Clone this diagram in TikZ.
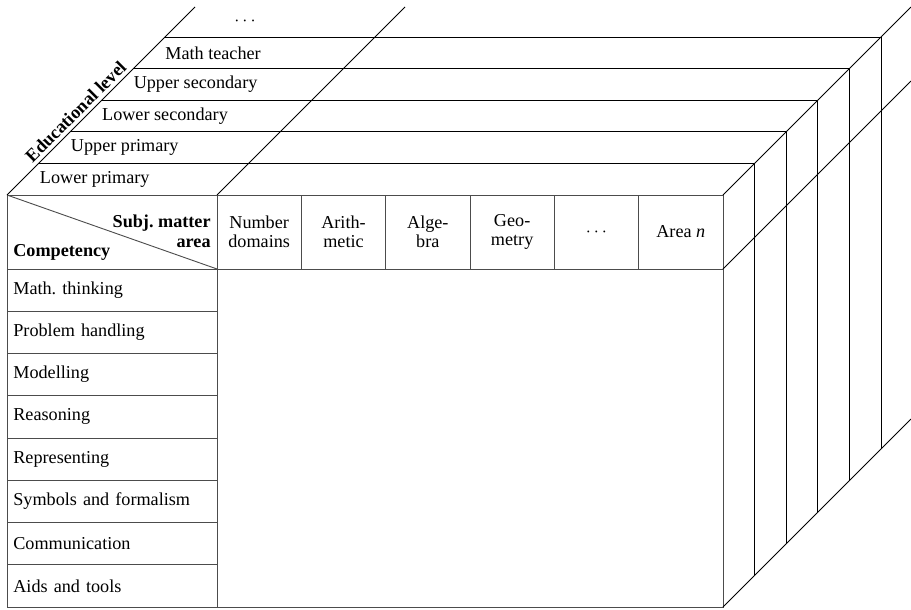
\documentclass[tikz,border=0pt]{standalone}
\usepackage{fontspec}
\setmainfont{Liberation Serif}
\usetikzlibrary{positioning}
\frenchspacing

\begin{document}
\begin{tikzpicture}[x=0.55pt, y=0.55pt, node distance=0pt,
    grid/.style={draw=black!70, line width=0.5pt, inner sep=0pt, outer sep=0pt},
    head/.style={grid, minimum width=46.38pt, minimum height=40.7pt, align=center,
        font=\fontsize{10pt}{10.5pt}\selectfont},
    comp/.style={grid, minimum height=23.24pt, text width=108.5pt, inner xsep=3.5pt, align=left},
    depth/.style={draw=black, line width=0.5pt},
    level/.style={anchor=west, inner sep=0pt}]

    \useasboundingbox (0,0) rectangle (911,609);

    % front face: header row
    \node[grid, anchor=north west, minimum width=115.5pt, minimum height=40.7pt] (Corner) at (7,414) {};
    \node[head, right=of Corner]         (Number domains) {Number\\domains};
    \node[head, right=of Number domains] (Arithmetic)     {Arith-\\metic};
    \node[head, right=of Arithmetic]     (Algebra)        {Alge-\\bra};
    \node[head, right=of Algebra]        (Geometry)       {Geo-\\metry};
    \node[head, right=of Geometry]       (More areas)     {$\cdots$};
    \node[head, right=of More areas]     (Area n)         {Area \textit{n}};

    % front face: competencies
    \node[comp, below=of Corner]           (Math thinking)    {Math. thinking};
    \node[comp, below=of Math thinking]    (Problem handling) {Problem handling};
    \node[comp, below=of Problem handling] (Modelling)        {Modelling};
    \node[comp, below=of Modelling]        (Reasoning)        {Reasoning};
    \node[comp, below=of Reasoning]        (Representing)     {Representing};
    \node[comp, below=of Representing]     (Symbols)          {Symbols and formalism};
    \node[comp, below=of Symbols]          (Communication)    {Communication};
    \node[comp, below=of Communication]    (Aids and tools)   {Aids and tools};

    \coordinate (Body corner) at (Aids and tools.south east -| Area n.south east);
    \draw[grid] (Aids and tools.south east) rectangle (Area n.south east);

    % corner cell
    \draw[grid] (Corner.north west) -- (Corner.south east);
    \node[anchor=north east, align=right, font=\bfseries\fontsize{10pt}{10.5pt}\selectfont, inner xsep=3.3pt, inner ysep=0pt]
        at ([yshift=-11pt]Corner.north east) (Subject label) {Subj. matter\\area};
    \node[anchor=south west, font=\bfseries, inner xsep=3.3pt, inner ysep=4.5pt]
        at (Corner.south west) (Competency label) {Competency};

    % depth: educational levels
    \draw[depth] (Corner.north west) -- ++(188,188);
    \draw[depth] (Corner.north east) -- ++(188,188);
    \draw[depth] (Area n.north east) -- ++(188,188);
    \draw[depth] (Area n.south east) -- ++(188,188);
    \draw[depth] (Body corner) -- ++(188,188);

    \draw[depth] ([shift={(31.6,31.6)}]Corner.north west) -| ([shift={(31.6,31.6)}]Body corner);
    \draw[depth] ([shift={(63.2,63.2)}]Corner.north west) -| ([shift={(63.2,63.2)}]Body corner);
    \draw[depth] ([shift={(94.8,94.8)}]Corner.north west) -| ([shift={(94.8,94.8)}]Body corner);
    \draw[depth] ([shift={(126.4,126.4)}]Corner.north west) -| ([shift={(126.4,126.4)}]Body corner);
    \draw[depth] ([shift={(158,158)}]Corner.north west) -| ([shift={(158,158)}]Body corner);

    \node[level] at ([shift={(32.6,15.8)}]Corner.north west)   (Lower primary)   {Lower primary};
    \node[level] at ([shift={(63.6,47.4)}]Corner.north west)   (Upper primary)   {Upper primary};
    \node[level] at ([shift={(94.8,79)}]Corner.north west)     (Lower secondary) {Lower secondary};
    \node[level] at ([shift={(126.4,110.6)}]Corner.north west) (Upper secondary) {Upper secondary};
    \node[level] at ([shift={(158,142.2)}]Corner.north west)   (Math teacher)    {Math teacher};
    \node at ([shift={(238,173.8)}]Corner.north west)          (More levels)     {$\cdots$};

    \node[anchor=south, rotate=45, font=\bfseries, inner sep=2pt]
        at ([shift={(76,76)}]Corner.north west) (Level label) {Educational level};
\end{tikzpicture}
\end{document}
